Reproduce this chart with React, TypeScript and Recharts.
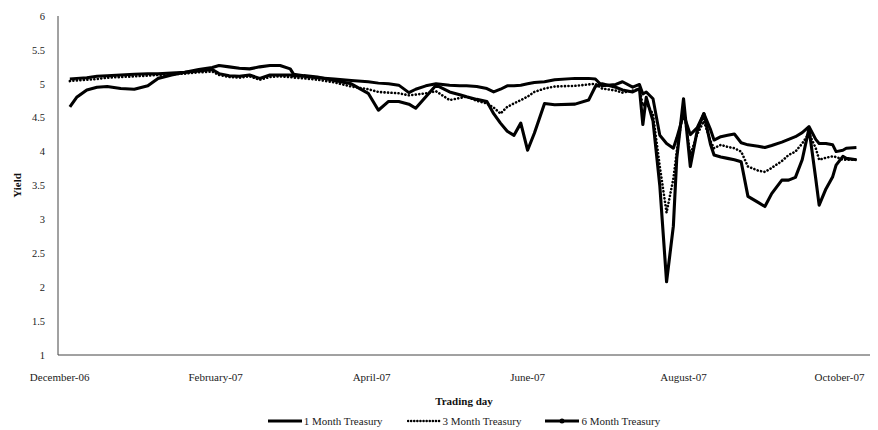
import React from "react";
import { LineChart, Line, XAxis, YAxis } from "recharts";

// trading-day index (0 = first trading day of December 2006)
const days = [
  3, 5, 8, 11, 14, 18, 22, 26, 29, 33, 37, 41, 45, 47, 50, 53, 56, 59, 62, 65,
  68, 69, 72, 76, 81, 86, 91, 94, 97, 100, 103, 105, 108, 111, 115, 118, 120,
  123, 126, 128, 130, 132, 134, 136, 138, 140, 143, 146, 152, 156, 158, 160,
  164, 166, 169, 171, 172, 173, 175, 177, 179, 181, 182, 184, 186, 188, 190,
  192, 193, 195, 197, 199, 201, 203, 206, 208, 210, 213, 215, 217, 219, 221,
  223, 224, 226, 228, 229, 231, 232, 235,
];

const oneMonth = [
  4.66, 4.8, 4.91, 4.95, 4.96, 4.93, 4.92, 4.97, 5.08, 5.13, 5.17, 5.21, 5.24,
  5.27, 5.25, 5.23, 5.22, 5.25, 5.27, 5.27, 5.22, 5.14, 5.12, 5.1, 5.05, 5.0,
  4.86, 4.61, 4.74, 4.74, 4.7, 4.64, 4.81, 4.98, 4.88, 4.84, 4.81, 4.77, 4.74,
  4.56, 4.42, 4.3, 4.24, 4.42, 4.02, 4.27, 4.71, 4.69, 4.7, 4.76, 4.96, 5.0,
  4.95, 4.91, 4.88, 4.93, 4.4, 4.8, 4.45, 3.5, 2.08, 2.9, 3.9, 4.78, 3.78, 4.3,
  4.56, 4.1, 3.95, 3.92, 3.9, 3.88, 3.85, 3.34, 3.25, 3.19, 3.38, 3.58, 3.58,
  3.62, 3.88, 4.34, 3.6, 3.21, 3.45, 3.63, 3.8, 3.93, 3.9, 3.88,
];

const threeMonth = [
  5.04, 5.05, 5.06, 5.07, 5.09, 5.1, 5.11, 5.12, 5.13, 5.14, 5.15, 5.17, 5.18,
  5.13, 5.1, 5.09, 5.11, 5.06, 5.1, 5.11, 5.1, 5.09, 5.08, 5.06, 5.02, 4.96,
  4.92, 4.88, 4.87, 4.86, 4.83, 4.84, 4.86, 4.89, 4.76, 4.79, 4.81, 4.75, 4.71,
  4.65, 4.56, 4.66, 4.71, 4.76, 4.81, 4.88, 4.93, 4.96, 4.97, 4.99, 5.0, 4.93,
  4.9, 4.87, 4.9, 4.92, 4.68, 4.72, 4.55, 3.78, 3.1, 3.6, 4.0, 4.65, 3.95, 4.25,
  4.45, 4.15, 4.05, 4.1, 4.07, 4.05, 4.0, 3.78, 3.72, 3.7, 3.76, 3.86, 3.95,
  4.0, 4.12, 4.27, 4.05, 3.88, 3.91, 3.93, 3.92, 3.88, 3.88, 3.88,
];

const sixMonth = [
  5.07, 5.08, 5.09, 5.11, 5.12, 5.13, 5.14, 5.15, 5.15, 5.16, 5.17, 5.19, 5.21,
  5.15, 5.12, 5.11, 5.13, 5.08, 5.13, 5.13, 5.13, 5.12, 5.11, 5.09, 5.07, 5.05,
  5.03, 5.01, 5.0, 4.98, 4.87, 4.92, 4.97, 5.0, 4.98, 4.97, 4.97, 4.96, 4.93,
  4.88, 4.92, 4.97, 4.97, 4.98, 5.0, 5.02, 5.03, 5.06, 5.08, 5.08, 5.07, 4.97,
  4.99, 5.03, 4.95, 4.99, 4.85, 4.88, 4.78, 4.24, 4.12, 4.05, 4.2, 4.55, 4.25,
  4.35, 4.56, 4.32, 4.17, 4.22, 4.24, 4.26, 4.13, 4.1, 4.08, 4.06, 4.09, 4.14,
  4.18, 4.22, 4.28, 4.37, 4.18, 4.12, 4.12, 4.1, 4.0, 4.02, 4.05, 4.06,
];

const tickDays = [0, 46, 92, 138, 184, 230];
const tickLabels = [
  "December-06",
  "February-07",
  "April-07",
  "June-07",
  "August-07",
  "October-07",
];
const yTicks = [1, 1.5, 2, 2.5, 3, 3.5, 4, 4.5, 5, 5.5, 6];

const seriesNames = ["1 Month Treasury", "3 Month Treasury", "6 Month Treasury"];

const FONT = '"Liberation Serif", "DejaVu Serif", "Times New Roman", serif';

const data = days.map((d, i) => ({
  day: d,
  m1: oneMonth[i],
  m3: threeMonth[i],
  m6: sixMonth[i],
}));

function LegendSample({ index }: { index: number }) {
  return (
    <svg width={34} height={8} style={{ marginRight: 2 }}>
      {index === 1 ? (
        <line x1={1} y1={4} x2={33} y2={4} stroke="#000" strokeWidth={2.5}
          strokeDasharray="0.1 3" strokeLinecap="round" />
      ) : (
        <line x1={0} y1={4} x2={34} y2={4} stroke="#000" strokeWidth={2.8} />
      )}
      {index === 2 && <circle cx={17} cy={4} r={2.5} fill="#000" />}
    </svg>
  );
}

export default function App() {
  return (
    <div style={{ position: "relative", width: 878, height: 430, background: "#fff" }}>
      <style>{`body{margin:0}`}</style>
      <LineChart
        width={878}
        height={430}
        data={data}
        margin={{ top: 16, right: 8, bottom: 23, left: 0 }}
      >
        <XAxis
          dataKey="day"
          type="number"
          domain={[-0.5, 239]}
          ticks={tickDays}
          tickFormatter={(v: number) => tickLabels[tickDays.indexOf(v)] ?? ""}
          tickLine={false}
          tickSize={0}
          tickMargin={18}
          height={52}
          stroke="#444"
          tick={{ fontFamily: FONT, fontSize: 11, fill: "#222" }}
          label={{
            value: "Trading day",
            position: "insideBottom",
            offset: 2,
            style: { fontFamily: FONT, fontSize: 11, fontWeight: "bold", fill: "#111" },
          }}
        />
        <YAxis
          type="number"
          domain={[1, 6]}
          ticks={yTicks}
          width={58}
          tickLine={false}
          tickSize={0}
          tickMargin={13}
          stroke="#444"
          tick={{ fontFamily: FONT, fontSize: 10.5, fill: "#222" }}
          label={{
            value: "Yield",
            content: ({ viewBox }: any) => {
              const cy = viewBox.y + viewBox.height / 2;
              return (
                <text
                  x={17}
                  y={cy}
                  transform={`rotate(-90 17 ${cy})`}
                  textAnchor="middle"
                  dominantBaseline="central"
                  style={{ fontFamily: FONT, fontSize: 11, fontWeight: "bold", fill: "#111" }}
                >
                  Yield
                </text>
              );
            },
          }}
        />
        <Line dataKey="m6" name={seriesNames[2]} stroke="#000" strokeWidth={3}
          dot={false} isAnimationActive={false} strokeLinejoin="round" />
        <Line dataKey="m3" name={seriesNames[1]} stroke="#000" strokeWidth={2.6}
          strokeDasharray="0.1 3.4" strokeLinecap="round" dot={false}
          isAnimationActive={false} />
        <Line dataKey="m1" name={seriesNames[0]} stroke="#000" strokeWidth={3.1}
          dot={false} isAnimationActive={false} strokeLinejoin="round" />
      </LineChart>
      <div
        style={{
          position: "absolute",
          top: 415,
          left: 58,
          width: 812,
          display: "flex",
          justifyContent: "center",
          gap: 24,
          fontFamily: FONT,
          fontSize: 11,
          color: "#222",
        }}
      >
        {seriesNames.map((name, i) => (
          <div key={name} style={{ display: "flex", alignItems: "center" }}>
            <LegendSample index={i} />
            <span>{name}</span>
          </div>
        ))}
      </div>
    </div>
  );
}
